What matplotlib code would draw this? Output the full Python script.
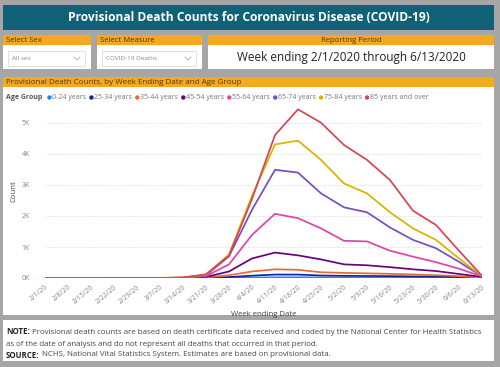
import matplotlib

matplotlib.use("Agg")
import matplotlib.pyplot as plt
from matplotlib.patches import Rectangle, Circle

plt.rcParams["font.family"] = ["Open Sans", "DejaVu Sans"]

# --- data ---
weeks = ["2/1/20", "2/8/20", "2/15/20", "2/22/20", "2/29/20", "3/7/20", "3/14/20",
         "3/21/20", "3/28/20", "4/4/20", "4/11/20", "4/18/20", "4/25/20", "5/2/20",
         "5/9/20", "5/16/20", "5/23/20", "5/30/20", "6/6/20", "6/13/20"]
age_groups = ["0-24 years", "25-34 years", "35-44 years", "45-54 years",
              "55-64 years", "65-74 years", "75-84 years", "85 years and over"]
colors = ["#118DFF", "#12239E", "#E66C37", "#6B007B",
          "#E044A7", "#744EC2", "#D9B300", "#D64550"]

d_0_24 = [0, 0, 0, 0, 0, 0, 0, 2, 8, 15, 20, 22, 18, 15, 13, 12, 10, 9, 6, 2]
d_25_34 = [0, 0, 0, 0, 0, 0, 1, 8, 30, 75, 110, 110, 80, 70, 65, 60, 50, 45, 30, 8]
d_35_44 = [0, 0, 0, 0, 0, 0, 2, 20, 90, 210, 280, 265, 185, 165, 150, 135, 115, 90, 60, 15]
d_45_54 = [0, 0, 0, 0, 0, 0, 4, 35, 210, 630, 820, 730, 600, 440, 410, 350, 280, 225, 130, 35]
d_55_64 = [0, 0, 0, 0, 1, 1, 8, 60, 440, 1390, 2070, 1930, 1600, 1200, 1180, 880, 690, 510, 300, 50]
d_65_74 = [0, 0, 0, 0, 1, 2, 12, 85, 700, 2200, 3490, 3400, 2730, 2280, 2120, 1630, 1230, 960, 520, 55]
d_75_84 = [0, 0, 0, 0, 1, 2, 14, 100, 760, 2650, 4310, 4430, 3810, 3050, 2730, 2120, 1600, 1230, 630, 60]
d_85_up = [0, 0, 0, 1, 1, 2, 16, 120, 720, 2550, 4610, 5440, 5010, 4290, 3810, 3160, 2170, 1710, 880, 70]
series = [d_0_24, d_25_34, d_35_44, d_45_54, d_55_64, d_65_74, d_75_84, d_85_up]

yticks = [0, 1000, 2000, 3000, 4000, 5000]
ytick_labels = ["0K", "1K", "2K", "3K", "4K", "5K"]

TEAL = "#0f6175"
ORANGE = "#f6a821"
GREY = "#a6a6a6"

fig = plt.figure(figsize=(5, 3.67), dpi=100)
fig.patch.set_facecolor(GREY)
bg = fig.add_axes([0, 0, 1, 1])
bg.set_xlim(0, 500)
bg.set_ylim(367, 0)
bg.axis("off")
r = fig.canvas.get_renderer()


def box(x0, y0, x1, y1, fc, ec="none", lw=0):
    bg.add_patch(Rectangle((x0, y0), x1 - x0, y1 - y0, facecolor=fc, edgecolor=ec, lw=lw))


def width(t):
    return t.get_window_extent(renderer=r).width


# title bar
box(3, 5, 494, 30, TEAL)
bg.text(248.5, 17.5, "Provisional Death Counts for Coronavirus Disease (COVID-19)",
        color="white", fontsize=8.65, fontweight="bold", ha="center", va="center")

# slicers
for x0, x1, head, val in [(3, 91, "Select Sex", "All sex"),
                          (97, 202, "Select Measure", "COVID-19 Deaths")]:
    box(x0, 35, x1, 45, ORANGE)
    box(x0, 45, x1, 69, "white")
    bg.text(x0 + 3, 40.5, head, fontsize=5.6, color="#4a3a1a", va="center")
    box(x0 + 5, 51, x1 - 6, 66, "white", ec="#dddddd", lw=0.6)
    bg.text(x0 + 9, 58.8, val, fontsize=4.6, color="#8a8a8a", va="center")
    bg.plot([x1 - 17, x1 - 14, x1 - 11], [57, 60, 57], color="#aaaaaa", lw=0.6)

box(208, 35, 494, 45, ORANGE)
box(208, 45, 494, 69, "white")
bg.text(351, 40.5, "Reporting Period", fontsize=5.6, color="#4a3a1a", ha="center", va="center")
bg.text(351, 58, "Week ending 2/1/2020 through 6/13/2020", fontsize=8.5,
        color="#222222", ha="center", va="center")

# chart panel
box(3, 77, 494, 87, ORANGE)
box(3, 87, 494, 315, "white")
bg.text(6, 82.5, "Provisional Death Counts, by Week Ending Date and Age Group",
        fontsize=5.8, color="#4a3a1a", va="center")

# legend
t = bg.text(6, 97.5, "Age Group", fontsize=5.0, fontweight="bold", color="#555555", va="center")
x = 6 + width(t) + 5
for name, c in zip(age_groups, colors):
    bg.add_patch(Circle((x + 2.2, 97.5), 2.2, color=c, lw=0))
    t = bg.text(x + 5, 97.5, name, fontsize=5.0, color="#777777", va="center")
    x = x + 5 + width(t) + 3

# note panel
box(3, 320, 494, 361, "white")
for y, bold, rest in [(332, "NOTE:", " Provisional death counts are based on death certificate data received and coded by the National Center for Health Statistics"),
                      (344, "", "as of the date of analysis and do not represent all deaths that occurred in that period."),
                      (355, "SOURCE:", " NCHS, National Vital Statistics System. Estimates are based on provisional data.")]:
    x = 6
    if bold:
        t = bg.text(x, y, bold, fontsize=5.7, fontweight="bold", color="#222222", va="center")
        x += width(t)
    bg.text(x, y, rest, fontsize=5.7, color="#444444", va="center")

# line chart
top_px, bot_px = 104.4, 278
ax = fig.add_axes([45 / 500, 1 - bot_px / 367, 437 / 500, (bot_px - top_px) / 367])
ax.set_facecolor("none")
xs = list(range(len(weeks)))
for vals, c in zip(series, colors):
    ax.plot(xs, vals, color=c, lw=1.25, solid_joinstyle="miter")

ax.set_xlim(0, len(weeks) - 1)
ax.set_ylim(0, 5600)
ax.set_yticks(yticks)
ax.set_yticklabels(ytick_labels)
ax.set_xticks(xs)
ax.set_xticklabels(weeks, rotation=40, ha="right", va="top", rotation_mode="anchor")
ax.tick_params(axis="both", length=0, labelsize=5.0, colors="#888888")
ax.tick_params(axis="y", pad=11)
ax.tick_params(axis="x", pad=4)
ax.grid(axis="y", linestyle=(0, (1, 2)), color="#cccccc", lw=0.6)
ax.set_axisbelow(True)
for s in ax.spines.values():
    s.set_visible(False)
ax.set_ylabel("Count", fontsize=5.6, color="#444444", labelpad=3)
ax.set_xlabel("Week ending Date", fontsize=5.6, color="#444444", labelpad=4)

fig.savefig("out.png", dpi=100, facecolor=GREY)
